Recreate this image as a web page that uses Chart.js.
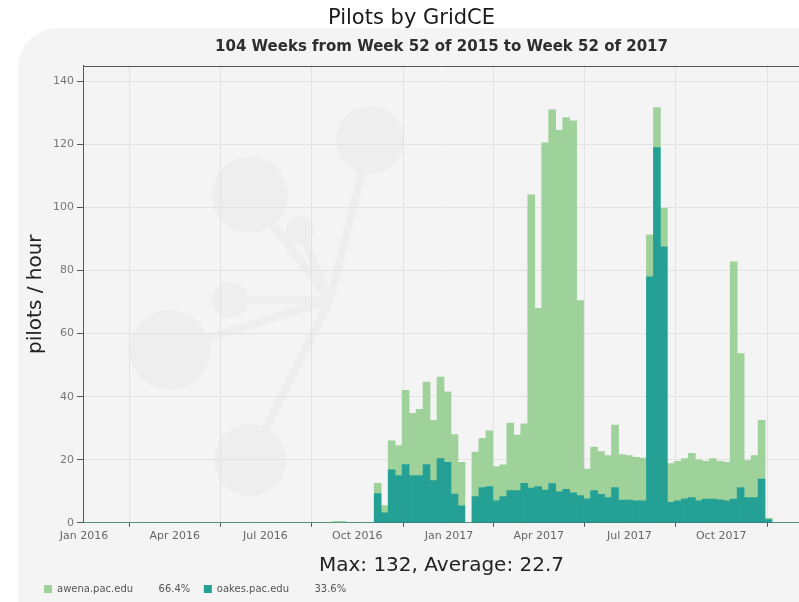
<!DOCTYPE html>
<html>
<head>
<meta charset="utf-8">
<title>Pilots by GridCE</title>
<script src="https://cdn.jsdelivr.net/npm/chart.js@4/dist/chart.umd.min.js"></script>
<style>
  html, body { margin: 0; padding: 0; background: #ffffff; }
  #wrap { width: 799px; height: 602px; }
</style>
</head>
<body>
<div id="wrap"><canvas id="c" width="799" height="602"></canvas></div>
<script>
// ---- categories: 104 weeks, week 52 of 2015 .. week 51 of 2017 ----
const weekLabels = ['2015-W52'];
for (let w = 1; w <= 52; w++) weekLabels.push('2016-W' + String(w).padStart(2, '0'));
for (let w = 1; w <= 51; w++) weekLabels.push('2017-W' + String(w).padStart(2, '0'));

// ---- series values (pilots / hour), one value per week ----
const oakesValues = [
  0, 0, 0, 0, 0, 0, 0, 0, 0, 0,
  0, 0, 0, 0, 0, 0, 0, 0, 0, 0,
  0, 0, 0, 0, 0, 0, 0, 0, 0, 0,
  0, 0, 0, 0, 0, 0, 0, 0, 0, 0,
  0, 0, 0, 9.3, 3.2, 16.8, 15, 18.5, 15, 15,
  18.5, 13.4, 20.4, 19.2, 9.1, 5.4, 0, 8.3, 11.2, 11.5,
  7, 8.3, 10.2, 10.2, 12.5, 11, 11.5, 10.4, 12.4, 9.8,
  10.6, 9.5, 8.6, 7.6, 10.2, 9, 8, 11.2, 7.2, 7.2,
  7, 7, 78, 119, 87.5, 6.5, 7, 7.6, 8, 7,
  7.5, 7.5, 7.3, 7, 7.5, 11.2, 8, 8, 13.9, 1,
  0, 0, 0, 0
];
const awenaValues = [
  0, 0, 0, 0, 0, 0, 0, 0, 0, 0,
  0, 0, 0, 0, 0, 0, 0, 0, 0, 0,
  0, 0, 0, 0, 0, 0, 0, 0, 0, 0,
  0, 0, 0, 0, 0, 0, 0, 0.5, 0.5, 0,
  0, 0, 0, 3.2, 2.3, 9.2, 9.5, 23.5, 19.7, 21,
  26.1, 19.1, 25.8, 22.3, 18.9, 13.8, 0, 14.1, 15.6, 17.7,
  10.8, 10.1, 21.4, 17.6, 18.9, 93, 56.5, 110.1, 118.6, 114.7,
  117.9, 118, 61.9, 9.4, 13.8, 13.6, 13.3, 19.8, 14.4, 14.1,
  13.8, 13.5, 13.3, 12.7, 12.3, 12.3, 12.5, 12.8, 14, 13,
  12, 12.9, 12.2, 12.2, 75.3, 42.5, 11.7, 13.3, 18.6, 0.5,
  0, 0, 0, 0
];

// ---- legend names and shares ----
const seriesNames = ['oakes.pac.edu', 'awena.pac.edu'];
const seriesShares = ['33.6%', '66.4%'];

// ---- x tick labels (quarter starts, in days since the first week start) ----
const quarterTickDays = [10, 101, 192, 284, 376, 466, 557, 649];
const quarterTickLabels = ['Jan 2016', 'Apr 2016', 'Jul 2016', 'Oct 2016', 'Jan 2017', 'Apr 2017', 'Jul 2017', 'Oct 2017'];

// ---- y ticks ----
const yTickStep = 20;
const yMax = 145;

const summaryText = 'Max: 132, Average: 22.7';

const DAYS_PER_WEEK = 7;
function toPoints(values) {
  return values.map((v, i) => ({ x: i * DAYS_PER_WEEK + DAYS_PER_WEEK / 2, y: v }));
}

const teal = '#24a095';
const green = '#9ed29a';

const bgPlugin = {
  id: 'bg',
  beforeDraw(chart) {
    const ctx = chart.ctx;
    ctx.save();
    ctx.fillStyle = '#ffffff';
    ctx.fillRect(0, 0, chart.width, chart.height);
    ctx.fillStyle = '#f4f4f4';
    ctx.beginPath();
    if (ctx.roundRect) ctx.roundRect(18, 28, 840, 640, 40); else ctx.rect(18, 28, 840, 640);
    ctx.fill();
    // faint watermark
    ctx.fillStyle = '#eeeeee';
    ctx.strokeStyle = '#eeeeee';
    ctx.lineWidth = 8;
    const hub = [330, 300];
    const nodes = [[250, 195, 38], [370, 140, 34], [170, 350, 40], [250, 460, 36], [230, 300, 18], [300, 230, 14]];
    nodes.forEach(n => { ctx.beginPath(); ctx.moveTo(hub[0], hub[1]); ctx.lineTo(n[0], n[1]); ctx.stroke(); });
    nodes.forEach(n => { ctx.beginPath(); ctx.arc(n[0], n[1], n[2], 0, Math.PI * 2); ctx.fill(); });
    ctx.restore();
    if (chart.legend) { chart.legend.left = 40; chart.legend.top += 2; }
  },
  afterDatasetsDraw(chart) {
    const { ctx, chartArea } = chart;
    ctx.save();
    ctx.strokeStyle = '#555';
    ctx.lineWidth = 1;
    ctx.beginPath();
    ctx.moveTo(chartArea.left, Math.round(chartArea.top) + 0.5);
    ctx.lineTo(chart.width, Math.round(chartArea.top) + 0.5);
    ctx.stroke();
    ctx.restore();
  }
};

Chart.defaults.font.family = "'DejaVu Sans', sans-serif";

new Chart(document.getElementById('c'), {
  type: 'bar',
  data: {
    labels: weekLabels,
    datasets: [
      { label: seriesNames[0], data: toPoints(oakesValues), backgroundColor: teal, borderWidth: 0, barPercentage: 1, categoryPercentage: 1 },
      { label: seriesNames[1], data: toPoints(awenaValues), backgroundColor: green, borderWidth: 0, barPercentage: 1, categoryPercentage: 1 }
    ]
  },
  options: {
    responsive: false,
    animation: false,
    layout: { padding: { left: 24, right: 0, top: 0, bottom: 0 } },
    plugins: {
      title: {
        display: true, text: 'Pilots by GridCE', color: '#1a1a1a',
        font: { size: 21, weight: 'normal' }, padding: { top: 6, bottom: 1 }
      },
      subtitle: {
        display: true, fullSize: false, text: '104 Weeks from Week 52 of 2015 to Week 52 of 2017', color: '#2e2e2e',
        font: { size: 15, weight: 'bold' }, padding: { top: 6, bottom: 9.4 }
      },
      legend: {
        position: 'bottom', align: 'start', reverse: true,
        labels: {
          boxWidth: 8, boxHeight: 8, padding: 4, color: '#555',
          font: { size: 10 },
          generateLabels(chart) {
            const items = Chart.defaults.plugins.legend.labels.generateLabels(chart);
            items.forEach(it => { it.text = it.text + '        ' + seriesShares[it.datasetIndex] + '   '; });
            return items;
          }
        }
      },
      tooltip: { enabled: false }
    },
    scales: {
      x: {
        type: 'linear', min: 10, max: 727, offset: false, stacked: true,
        grid: { color: '#e2e2e2', tickColor: '#555', tickLength: 4 },
        border: { color: '#555' },
        afterBuildTicks(scale) { scale.ticks = quarterTickDays.map(v => ({ value: v })); },
        ticks: {
          autoSkip: false, maxRotation: 0, color: '#666', font: { size: 11 }, padding: 3,
          callback(v) { const i = quarterTickDays.indexOf(v); return i >= 0 ? quarterTickLabels[i] : ''; }
        },
        title: { display: true, text: summaryText, color: '#222', font: { size: 20 }, padding: { top: 8, bottom: 0 } }
      },
      y: {
        stacked: true, min: 0, max: yMax,
        grid: { color: '#e2e2e2', tickColor: '#555', tickLength: 7 },
        border: { color: '#555' },
        ticks: { stepSize: yTickStep, includeBounds: false, color: '#777', font: { size: 11 }, padding: 3 },
        title: { display: true, text: 'pilots / hour', color: '#222', font: { size: 20 }, padding: { top: 0, bottom: 2 } }
      }
    }
  },
  plugins: [bgPlugin]
});
</script>
</body>
</html>
